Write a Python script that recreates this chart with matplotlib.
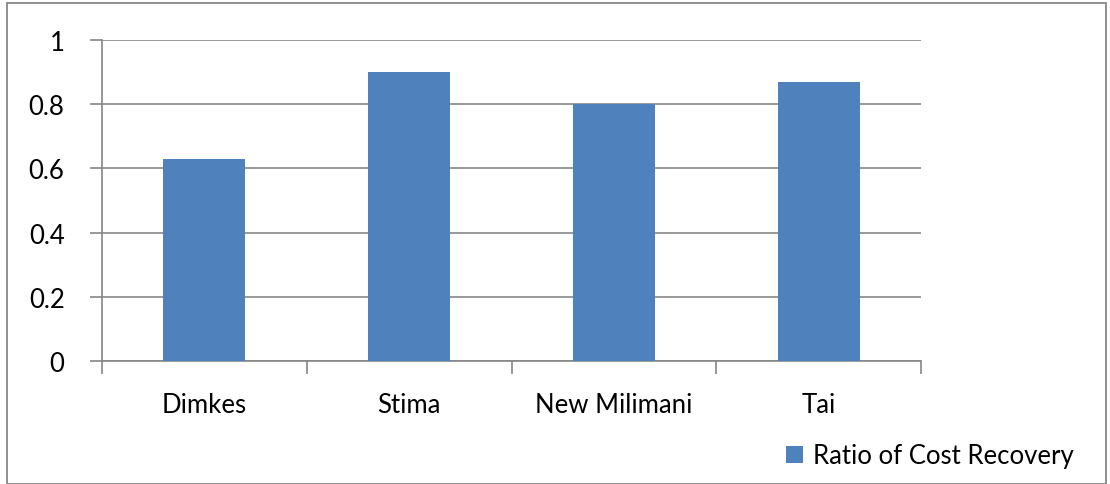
import matplotlib
matplotlib.use("Agg")
import matplotlib.pyplot as plt
from matplotlib.patches import Rectangle

categories = ["Dimkes", "Stima", "New Milimani", "Tai"]
values = [0.63, 0.90, 0.80, 0.87]
yticks = [0, 0.2, 0.4, 0.6, 0.8, 1]
yticklabels = ["0", "0.2", "0.4", "0.6", "0.8", "1"]
series_name = "Ratio of Cost Recovery"

plt.rcParams['font.family'] = ['Lato', 'DejaVu Sans']
FS = 18.5
W, H = 1110, 485
fig = plt.figure(figsize=(W/100, H/100), dpi=100)
fig.patches.append(Rectangle((7/W, 0), (1106-7)/W, 1-4/H, transform=fig.transFigure,
                             fill=False, edgecolor='#868686', linewidth=1.3))

ax = fig.add_axes([102/W, 1-362/H, (921-102)/W, (362-41)/H])
x = list(range(len(categories)))
ax.bar(x, values, width=0.4, color='#4F81BD', label=series_name, zorder=3)
ax.set_xlim(-0.5, len(categories)-0.5)
ax.set_ylim(0, 1)
ax.set_yticks(yticks)
ax.set_yticklabels(yticklabels, fontsize=FS)
ax.yaxis.grid(True, color='#868686', linewidth=1.2, zorder=0)
ax.set_xticks(x)
ax.set_xticklabels(categories, fontsize=FS)
ax.tick_params(axis='x', length=0, pad=22)
ax.set_xticks([i - 0.5 for i in range(len(categories)+1)], minor=True)
ax.tick_params(axis='x', which='minor', length=9, color='#868686', width=1.2)
ax.tick_params(axis='y', length=9, color='#868686', width=1.2, pad=18)
for s in ['top', 'right']:
    ax.spines[s].set_visible(False)
for s in ['left', 'bottom']:
    ax.spines[s].set_color('#868686')
    ax.spines[s].set_linewidth(1.2)

fig.legend(loc='center left', bbox_to_anchor=(786/W, 1-457/H), frameon=False,
           fontsize=FS, handlelength=0.65, handleheight=0.65, handletextpad=0.4,
           borderaxespad=0, borderpad=0)
fig.savefig("out.png", dpi=100)
